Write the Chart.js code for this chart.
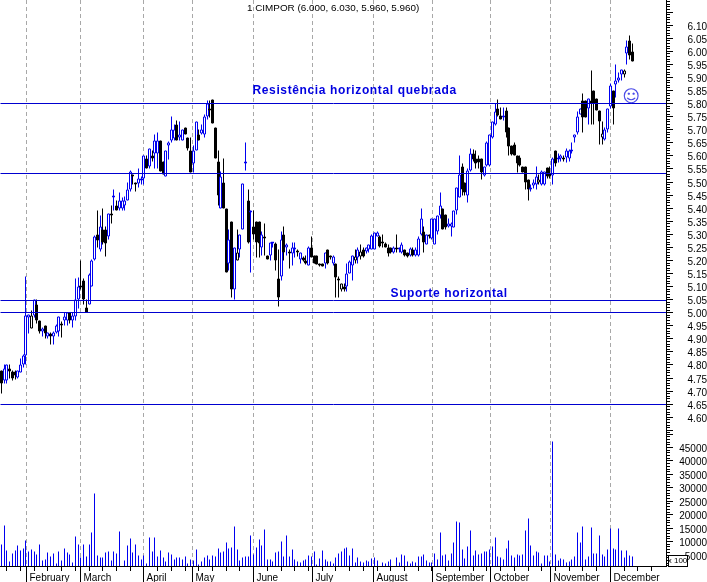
<!DOCTYPE html>
<html><head><meta charset="utf-8">
<style>html,body{margin:0;padding:0;background:#fff}canvas{display:block}</style>
<script src="https://cdn.jsdelivr.net/npm/chart.js@4"></script>
</head><body><canvas id="c" width="707" height="582"></canvas>
<script>
const open_=[4.78,4.74,4.74,4.785,4.775,4.775,4.752,4.77,4.80,4.835,4.98,4.94,4.99,5.03,4.97,4.93,4.95,4.91,4.92,4.91,4.925,4.93,4.96,4.97,4.97,5.00,4.97,4.985,5.05,5.105,5.125,5.02,5.03,5.10,5.205,5.30,5.24,5.32,5.32,5.29,5.375,5.44,5.41,5.40,5.397,5.41,5.43,5.47,5.53,5.50,5.495,5.505,5.515,5.59,5.56,5.60,5.61,5.61,5.66,5.58,5.52,5.64,5.66,5.665,5.72,5.67,5.66,5.71,5.67,5.62,5.57,5.62,5.68,5.685,5.68,5.75,5.78,5.815,5.71,5.58,5.40,5.50,5.40,5.19,5.35,5.09,5.20,5.24,5.32,5.57,5.43,5.385,5.33,5.35,5.35,5.25,5.285,5.22,5.22,5.265,5.265,5.13,5.14,5.30,5.25,5.226,5.225,5.24,5.235,5.205,5.21,5.20,5.18,5.25,5.22,5.22,5.19,5.19,5.19,5.24,5.22,5.19,5.19,5.125,5.09,5.10,5.10,5.15,5.18,5.20,5.21,5.215,5.24,5.235,5.24,5.24,5.24,5.29,5.29,5.27,5.265,5.25,5.25,5.23,5.25,5.24,5.23,5.24,5.23,5.22,5.24,5.22,5.22,5.30,5.31,5.26,5.30,5.285,5.26,5.31,5.37,5.40,5.375,5.33,5.33,5.325,5.39,5.44,5.56,5.50,5.45,5.545,5.61,5.59,5.59,5.59,5.525,5.565,5.565,5.67,5.72,5.78,5.755,5.745,5.775,5.71,5.64,5.645,5.60,5.595,5.56,5.56,5.51,5.47,5.487,5.49,5.50,5.49,5.49,5.555,5.535,5.525,5.62,5.585,5.59,5.585,5.595,5.59,5.615,5.67,5.688,5.76,5.81,5.81,5.78,5.81,5.85,5.82,5.775,5.67,5.663,5.70,5.787,5.85,5.873,5.89,5.91,5.91,5.99,6.04,6.00];
const high=[4.78,4.80,4.80,4.80,4.78,4.78,4.78,4.825,4.84,5.14,4.995,5.01,5.05,5.05,4.97,4.945,4.95,4.925,4.925,4.93,4.955,4.985,4.965,5.00,5.00,5.00,5.00,5.13,5.135,5.20,5.13,5.05,5.15,5.205,5.295,5.39,5.37,5.40,5.33,5.38,5.41,5.47,5.43,5.46,5.44,5.445,5.50,5.545,5.53,5.50,5.55,5.52,5.60,5.60,5.63,5.62,5.68,5.69,5.66,5.58,5.62,5.655,5.75,5.72,5.735,5.73,5.70,5.71,5.67,5.67,5.64,5.73,5.70,5.72,5.76,5.81,5.81,5.815,5.71,5.62,5.54,5.59,5.40,5.32,5.35,5.25,5.32,5.30,5.495,5.65,5.47,5.39,5.39,5.35,5.35,5.31,5.34,5.22,5.27,5.27,5.27,5.24,5.31,5.33,5.265,5.24,5.27,5.27,5.24,5.23,5.215,5.22,5.255,5.29,5.22,5.22,5.19,5.19,5.23,5.24,5.22,5.22,5.19,5.14,5.11,5.11,5.19,5.20,5.22,5.24,5.25,5.26,5.25,5.25,5.26,5.30,5.305,5.31,5.295,5.30,5.27,5.26,5.25,5.255,5.30,5.25,5.27,5.24,5.23,5.25,5.25,5.25,5.29,5.40,5.33,5.30,5.30,5.36,5.36,5.37,5.46,5.40,5.375,5.36,5.345,5.39,5.48,5.60,5.57,5.50,5.55,5.63,5.625,5.62,5.60,5.59,5.56,5.655,5.68,5.73,5.80,5.815,5.785,5.785,5.785,5.71,5.64,5.65,5.60,5.60,5.56,5.56,5.51,5.49,5.51,5.558,5.53,5.545,5.54,5.555,5.56,5.595,5.62,5.61,5.605,5.60,5.63,5.625,5.65,5.68,5.77,5.78,5.84,5.81,5.82,5.925,5.85,5.82,5.775,5.73,5.71,5.78,5.875,5.85,5.95,5.92,5.93,5.93,6.04,6.06,6.03];
const low=[4.69,4.73,4.73,4.75,4.74,4.745,4.75,4.77,4.79,4.80,4.92,4.94,4.98,4.96,4.92,4.91,4.90,4.90,4.88,4.88,4.92,4.91,4.905,4.95,4.95,4.96,4.945,4.97,5.015,5.09,5.03,5.00,5.03,5.10,5.20,5.25,5.235,5.26,5.215,5.28,5.34,5.39,5.39,5.39,5.39,5.39,5.43,5.465,5.49,5.465,5.48,5.49,5.49,5.55,5.55,5.58,5.55,5.55,5.54,5.53,5.52,5.585,5.65,5.66,5.66,5.66,5.66,5.68,5.62,5.535,5.535,5.62,5.66,5.68,5.67,5.74,5.745,5.725,5.59,5.41,5.40,5.40,5.153,5.16,5.06,5.05,5.20,5.21,5.32,5.545,5.265,5.152,5.28,5.21,5.21,5.22,5.22,5.205,5.20,5.25,5.16,5.025,5.125,5.20,5.22,5.17,5.18,5.21,5.215,5.19,5.195,5.185,5.18,5.21,5.19,5.185,5.175,5.175,5.17,5.185,5.205,5.18,5.06,5.06,5.08,5.08,5.08,5.15,5.125,5.19,5.19,5.205,5.21,5.225,5.23,5.24,5.24,5.29,5.25,5.25,5.25,5.215,5.225,5.225,5.23,5.23,5.225,5.215,5.21,5.215,5.215,5.215,5.215,5.295,5.23,5.26,5.285,5.28,5.26,5.30,5.36,5.32,5.32,5.325,5.29,5.325,5.375,5.44,5.45,5.45,5.42,5.54,5.58,5.55,5.55,5.51,5.52,5.56,5.56,5.665,5.715,5.75,5.74,5.735,5.67,5.60,5.60,5.60,5.535,5.56,5.535,5.47,5.43,5.465,5.475,5.47,5.49,5.485,5.485,5.515,5.515,5.49,5.56,5.575,5.58,5.58,5.575,5.58,5.61,5.65,5.68,5.76,5.69,5.745,5.72,5.72,5.72,5.775,5.645,5.645,5.66,5.69,5.78,5.72,5.825,5.88,5.89,5.90,5.95,5.97,5.96];
const close_=[4.73,4.785,4.80,4.775,4.75,4.76,4.78,4.80,4.835,4.99,4.995,4.99,5.05,4.97,4.93,4.94,4.92,4.925,4.91,4.925,4.95,4.985,4.95,4.985,5.00,4.97,4.99,5.05,5.10,5.095,5.05,5.00,5.145,5.20,5.29,5.275,5.33,5.27,5.265,5.38,5.37,5.44,5.39,5.43,5.43,5.43,5.47,5.54,5.52,5.49,5.515,5.515,5.60,5.55,5.63,5.59,5.66,5.66,5.54,5.53,5.62,5.65,5.70,5.70,5.66,5.68,5.70,5.68,5.63,5.535,5.62,5.73,5.66,5.70,5.75,5.80,5.775,5.725,5.59,5.45,5.52,5.40,5.153,5.28,5.087,5.25,5.23,5.30,5.495,5.57,5.27,5.39,5.30,5.27,5.265,5.30,5.29,5.205,5.27,5.27,5.20,5.06,5.28,5.23,5.26,5.235,5.25,5.25,5.23,5.23,5.20,5.19,5.25,5.21,5.19,5.185,5.18,5.175,5.23,5.19,5.21,5.215,5.135,5.13,5.11,5.09,5.15,5.195,5.22,5.215,5.24,5.235,5.215,5.25,5.26,5.295,5.305,5.305,5.255,5.265,5.25,5.225,5.23,5.25,5.24,5.245,5.26,5.22,5.215,5.245,5.22,5.24,5.285,5.36,5.27,5.30,5.29,5.36,5.36,5.37,5.41,5.32,5.325,5.34,5.34,5.39,5.48,5.53,5.47,5.46,5.545,5.61,5.585,5.57,5.575,5.535,5.56,5.65,5.68,5.73,5.77,5.755,5.74,5.755,5.69,5.635,5.605,5.60,5.57,5.565,5.535,5.50,5.47,5.475,5.50,5.52,5.51,5.54,5.54,5.52,5.52,5.59,5.57,5.595,5.60,5.595,5.62,5.62,5.62,5.68,5.75,5.78,5.745,5.745,5.82,5.80,5.80,5.775,5.73,5.685,5.70,5.78,5.87,5.78,5.89,5.90,5.93,5.925,6.02,5.985,5.96];
const volume=[8850,15950,6600,2450,5450,6600,8450,6600,7350,10350,6250,6950,6250,5100,8850,2850,3250,5850,4350,5450,1750,6250,2850,7350,5850,5100,2100,11850,8850,3950,8850,4350,8850,13350,27950,4750,3950,3950,5850,6250,2850,6250,5450,13750,null,2850,8450,11100,5850,8850,4750,3250,4750,1750,11450,6250,11450,4350,6600,3950,2450,5850,5100,3250,3950,3950,3250,4350,1750,3250,2850,6950,1350,2450,3950,4750,3250,4750,4350,7350,5850,6250,9600,7350,7750,15600,6950,2850,3950,4350,4350,12250,5100,7750,10750,8450,14450,3250,3250,2450,5850,6250,9950,4350,12250,4350,6950,3250,2450,2100,2850,3250,4750,4350,6250,1350,3600,6600,3250,2450,2450,1750,3950,5450,6250,7350,7750,4750,7350,2100,3950,2450,2100,2850,2450,3600,3950,2850,null,2100,1750,2450,3250,null,3950,2100,5100,4750,2450,1750,2450,2100,4350,4350,5100,2850,2100,2100,5450,3250,13350,4750,5100,2850,5450,9600,17450,17100,6950,3600,8100,14100,4750,6600,5100,5450,6250,6250,6950,8100,11450,4350,3950,3250,7350,10350,4750,3950,5100,4750,5100,14100,18600,8450,4750,6250,5850,1750,4750,4750,2450,47400,5100,2850,3600,3250,2100,2450,3250,4350,13350,9600,15600,3250,4350,15250,5450,5450,12250,5100,4350,6950,14850,7350,6950,14850,6600,3950,6600,4750,4350];
const monthNames=["February","March","April","May","June","July","August","September","October","November","December"];
const monthStarts=[9.11,28.8,51.8,69.6,91.85,113.36,135.6,157.1,178.2,200.1,222];
const levels=[5.80,5.533,5.047,5.00,4.65];
const priceTicks=[4.55,4.60,4.65,4.70,4.75,4.80,4.85,4.90,4.95,5.00,5.05,5.10,5.15,5.20,5.25,5.30,5.35,5.40,5.45,5.50,5.55,5.60,5.65,5.70,5.75,5.80,5.85,5.90,5.95,6.00,6.05,6.10,6.15];
const volumeTicks=[5000,10000,15000,20000,25000,30000,35000,40000,45000,50000];
const titleText="1 CIMPOR (6.000, 6.030, 5.960, 5.960)";
const notes=[
 {text:"Resistência horizontal quebrada",x:91.7,y:5.85,font:"bold 12px 'Liberation Sans'",sp:"0.63px",color:"#0000e0"},
 {text:"Suporte horizontal",x:141.7,y:5.073,font:"bold 12px 'Liberation Sans'",sp:"0.63px",color:"#0000e0"},
 {text:"☺",x:226.6,y:5.822,font:"17px 'DejaVu Sans'",sp:"0px",color:"#4a4ae8"}
];

const XMIN=-0.474, XMAX=242.3;
const PMIN=4.536, PMAX=6.1963, VMIN=917, VMAX=50022;
const BLUE="#0000f0", BLACK="#000";
const FONT="'Liberation Sans'";

function snap(s){
  if(s._snapped) return;
  const f=s.getPixelForValue.bind(s);
  s.getPixelForValue=(v,i)=>Math.floor(f(v,i))+0.5;
  s.getPadding=()=>({left:0,top:0,right:0,bottom:0});
  s._snapped=true;
}
const idx=open_.map((_,i)=>i);
const isHollow=i=>close_[i]>=open_[i];
const colorOf=i=>(!isHollow(i)||(i>0&&close_[i]<close_[i-1]))?BLACK:BLUE;

const extras={
  id:'extras',
  afterDraw(ch){
    const c=ch.ctx, x=ch.scales.x, yP=ch.scales.y, yV=ch.scales.yv, a=ch.chartArea;
    c.save();
    c.strokeStyle='#000'; c.lineWidth=1; c.beginPath();
    for(let w=2;w<=238;w+=5){const p=x.getPixelForValue(w); c.moveTo(p,a.bottom); c.lineTo(p,a.bottom+5);}
    for(let k=454;k<=619;k++){const p=yP.getPixelForValue(k/100); c.moveTo(a.right,p); c.lineTo(a.right+4,p);}
    for(let k=1;k<=50;k++){const p=yV.getPixelForValue(k*1000); if(p<=a.bottom){c.moveTo(a.right,p); c.lineTo(a.right+4,p);}}
    c.stroke();
    c.fillStyle='#fff'; c.fillRect(668,556,19,10);
    c.strokeRect(668.5,555.5,19,11);
    c.fillStyle='#000'; c.font="8px "+FONT; c.textAlign='center'; c.textBaseline='middle';
    c.fillText("x 100",677.5,561);
    c.font="9.9px "+FONT; c.textAlign='left';
    c.fillText(titleText,247,8.5);
    for(const n of notes){
      c.font=n.font; c.letterSpacing=n.sp; c.fillStyle=n.color; c.textAlign='left';
      c.fillText(n.text,x.getPixelForValue(n.x),yP.getPixelForValue(n.y));
    }
    c.restore();
  }
};

new Chart(document.getElementById('c'),{
  type:'bar',
  plugins:[extras],
  data:{datasets:[
    ...levels.map(v=>({type:'line',xAxisID:'x',yAxisID:'y',data:[{x:XMIN,y:v},{x:XMAX,y:v}],borderColor:"#0000d0",borderWidth:1,pointRadius:0,order:0,tension:0})),
    {label:'body',xAxisID:'x',yAxisID:'y',order:1,grouped:false,barThickness:3,minBarLength:2,inflateAmount:0,borderWidth:1,borderSkipped:false,
     data:idx.map(i=>({x:i,y:[Math.min(open_[i],close_[i]),Math.max(open_[i],close_[i])]})),
     borderColor:ctx=>colorOf(ctx.dataIndex),
     backgroundColor:ctx=>isHollow(ctx.dataIndex)?'#fff':colorOf(ctx.dataIndex)},
    {label:'wick',xAxisID:'x',yAxisID:'y',order:2,grouped:false,barThickness:1,inflateAmount:0,borderWidth:0,
     data:idx.map(i=>({x:i,y:[low[i],high[i]]})),
     backgroundColor:ctx=>colorOf(ctx.dataIndex)},
    {label:'volume',xAxisID:'x',yAxisID:'yv',order:3,grouped:false,barThickness:1,inflateAmount:0,borderWidth:0,backgroundColor:BLUE,
     data:idx.filter(i=>volume[i]!==null).map(i=>({x:i,y:volume[i]}))}
  ]},
  options:{
    responsive:false,animation:false,devicePixelRatio:1,
    layout:{padding:0,autoPadding:false},
    plugins:{legend:{display:false},tooltip:{enabled:false},title:{display:false}},
    scales:{
      x:{type:'linear',position:'bottom',min:XMIN,max:XMAX,offset:false,
        afterBuildTicks(s){snap(s);s.ticks=monthStarts.map(v=>({value:v}));},
        afterFit(s){s.height=16;},
        grid:{display:true,offset:false,color:'#a8a8a8',tickColor:'#000',tickLength:16,lineWidth:1},
        border:{display:true,color:'#000',dash:[4,3]},
        ticks:{autoSkip:false,maxRotation:0,minRotation:0,align:'start',labelOffset:3,padding:-10,color:'#000',
          font:{family:FONT,size:10},
          callback:v=>monthNames[monthStarts.indexOf(v)]||''}
      },
      y:{type:'linear',position:'right',stack:'v',stackWeight:434,min:PMIN,max:PMAX,
        afterBuildTicks(s){snap(s);s.ticks=priceTicks.map(v=>({value:v}));},
        afterFit(s){s.width=41;},
        grid:{drawOnChartArea:false,tickLength:7,tickColor:'#000'},
        border:{color:'#000'},
        ticks:{autoSkip:false,crossAlign:'far',padding:6.8,labelOffset:2,color:'#000',font:{family:FONT,size:10},
          callback:v=>(v<4.59||v>6.11)?'':v.toFixed(2)}
      },
      yv:{type:'linear',position:'right',stack:'v',stackWeight:132,min:VMIN,max:VMAX,
        afterBuildTicks(s){snap(s);s.ticks=volumeTicks.map(v=>({value:v}));},
        afterFit(s){s.width=41;},
        grid:{drawOnChartArea:false,tickLength:7,tickColor:'#000'},
        border:{color:'#000'},
        ticks:{autoSkip:false,crossAlign:'far',padding:-3,labelOffset:2,color:'#000',font:{family:FONT,size:10},
          callback:v=>v>=50000?'':String(v)}
      }
    }
  }
});
</script></body></html>
